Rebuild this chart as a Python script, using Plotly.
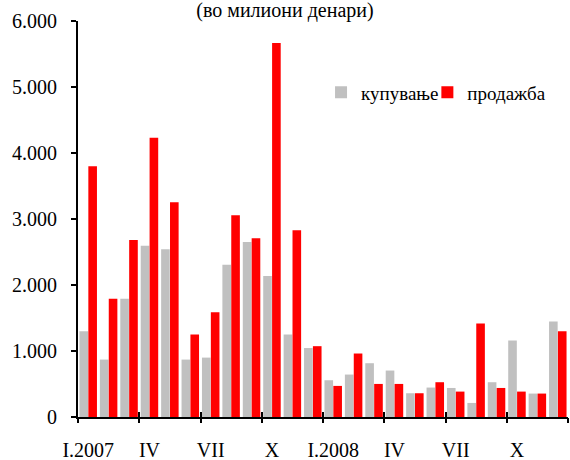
import plotly.graph_objects as go

# Monthly buying / selling, 2007-2008 (millions of denars)
months = [
    "I.2007", "II.2007", "III.2007", "IV.2007", "V.2007", "VI.2007",
    "VII.2007", "VIII.2007", "IX.2007", "X.2007", "XI.2007", "XII.2007",
    "I.2008", "II.2008", "III.2008", "IV.2008", "V.2008", "VI.2008",
    "VII.2008", "VIII.2008", "IX.2008", "X.2008", "XI.2008", "XII.2008",
]
buying = [1300, 870, 1790, 2595, 2540, 870, 900, 2305, 2650, 2135, 1250, 1045,
          557, 643, 815, 704, 360, 446, 440, 213, 527, 1159, 355, 1447]
selling = [3800, 1790, 2680, 4230, 3253, 1250, 1589, 3055, 2707, 5666, 2828, 1073,
           471, 962, 501, 501, 360, 527, 385, 1417, 440, 385, 355, 1300]

series_names = ["купување", "продажба"]
series_colors = ["#C0C0C0", "#FF0000"]

# Labelled months (every quarter) and their display text
label_months = ["I.2007", "IV.2007", "VII.2007", "X.2007",
                "I.2008", "IV.2008", "VII.2008", "X.2008"]
label_text = ["I.2007", "IV", "VII", "X", "I.2008", "IV", "VII", "X"]

FONT = "Liberation Serif, Times New Roman, DejaVu Serif, serif"

n = len(months)
# quarter boundaries for the tick marks on the category axis
boundaries = [i - 0.5 for i in range(0, n + 1, 3)]

fig = go.Figure()
# each series gets its own legend box so the two keys sit side by side
legend_ids = ["legend", "legend2"]
for name, color, vals, lg in zip(series_names, series_colors,
                                 [buying, selling], legend_ids):
    fig.add_trace(go.Bar(
        x=months, y=vals, name=name, legend=lg,
        marker=dict(color=color, line=dict(width=0)),
    ))

legend_style = dict(
    orientation="h", xanchor="left", y=0.82, yanchor="middle",
    bgcolor="rgba(0,0,0,0)", borderwidth=0,
    font=dict(family=FONT, size=19, color="black"), itemwidth=30,
)

fig.update_layout(
    template="none",
    width=570, height=460,
    margin=dict(l=78, r=2, t=21, b=43, autoexpand=False),
    paper_bgcolor="white", plot_bgcolor="white",
    barmode="group", bargap=0.13, bargroupgap=0.03,
    separators=",.",
    font=dict(family=FONT, size=20, color="black"),
    title=dict(
        text="(во милиони денари)",
        xref="container", x=0.5, xanchor="center",
        yref="container", y=0.993, yanchor="top", pad=dict(t=0, b=0),
        font=dict(family=FONT, size=20, color="black"),
    ),
    legend=dict(x=0.496, **legend_style),
    legend2=dict(x=0.713, **legend_style),
    xaxis=dict(
        type="category", categoryorder="array", categoryarray=months,
        range=[-0.5, n - 0.5], automargin=False,
        tickmode="array", tickvals=label_months, ticktext=label_text,
        ticks="", showline=True, linecolor="black", linewidth=2,
        showgrid=False, zeroline=False, ticklabelstandoff=14,
        tickfont=dict(family=FONT, size=20, color="black"),
    ),
    xaxis2=dict(
        overlaying="x", anchor="y", side="bottom", automargin=False,
        range=[-0.5, n - 0.5], tickmode="array", tickvals=boundaries,
        ticks="outside", ticklen=5, tickwidth=2, tickcolor="black",
        showticklabels=False, showline=False, showgrid=False, zeroline=False,
    ),
    xaxis3=dict(
        overlaying="x", anchor="y", side="bottom", automargin=False,
        range=[-0.5, n - 0.5], tickmode="array", tickvals=boundaries,
        ticks="inside", ticklen=5, tickwidth=2, tickcolor="black",
        showticklabels=False, showline=False, showgrid=False, zeroline=False,
    ),
    yaxis=dict(
        range=[0, 6000], tickmode="linear", tick0=0, dtick=1000,
        automargin=False,
        tickformat=",.0f", ticks="outside", ticklen=5, tickwidth=2,
        tickcolor="black", showline=True, linecolor="black", linewidth=2,
        showgrid=False, zeroline=False, ticklabelstandoff=10,
        tickfont=dict(family=FONT, size=20, color="black"),
    ),
)

# invisible carriers so the overlay axes draw their tick marks
for ax in ["x2", "x3"]:
    fig.add_trace(go.Scatter(x=[None], y=[None], xaxis=ax, yaxis="y",
                             showlegend=False, hoverinfo="skip"))

fig.write_html("out.html")
